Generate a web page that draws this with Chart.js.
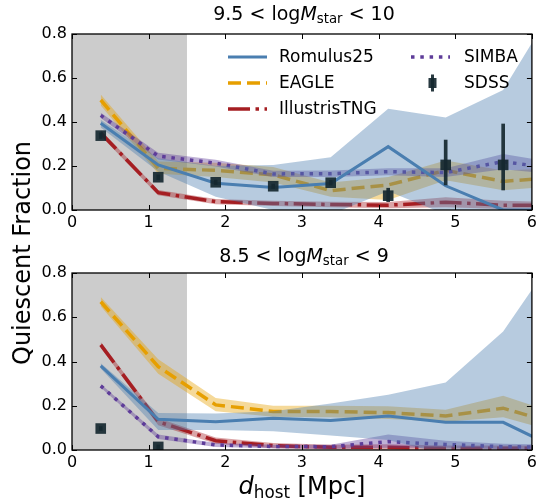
<!DOCTYPE html>
<html>
<head>
<meta charset="utf-8">
<script src="https://cdn.jsdelivr.net/npm/chart.js@4.4.1/dist/chart.umd.min.js"></script>
<style>
  body { margin: 0; background: #fff; font-family: "DejaVu Sans", sans-serif; }
  #wrap { position: relative; width: 540px; height: 501px; overflow: hidden; }
  canvas { position: absolute; left: 0; }
  .txt { position: absolute; white-space: nowrap; color: #000; }
  .txt sub { font-size: 0.7em; vertical-align: -0.22em; line-height: 0; }
  .title { font-size: 19px; line-height: 19px; transform: translateX(-50%); }
</style>
</head>
<body>
<div id="wrap">
  <canvas id="topChart" width="540" height="232" style="top:0"></canvas>
  <canvas id="botChart" width="540" height="269" style="top:232px"></canvas>
  <div class="txt title" style="left:304px; top:4px;">9.5 &lt; log<i>M</i><sub>star</sub> &lt; 10</div>
  <div class="txt title" style="left:304px; top:246px;">8.5 &lt; log<i>M</i><sub>star</sub> &lt; 9</div>
  <div class="txt" style="left:22px; top:253px; font-size:24px; line-height:24px; transform:translate(-50%,-50%) rotate(-90deg);">Quiescent Fraction</div>
  <div class="txt" style="left:302px; top:474px; font-size:24px; line-height:24px; transform:translateX(-50%);"><i>d</i><sub>host</sub> [Mpc]</div>
</div>
<script>
'use strict';

// bin centres (last one sits past the axis edge and gets clipped)
var xBins = [0.375, 1.125, 1.875, 2.625, 3.375, 4.125, 4.875, 5.625, 6.375];
var xTicks = [0, 1, 2, 3, 4, 5, 6];
var yTicks = [0, 0.2, 0.4, 0.6, 0.8];
var shadeFrom = 0;
var shadeTo = 1.5;

// ---------------- 9.5 < logM < 10 ----------------
var romTop   = [0.394, 0.205, 0.122, 0.102, 0.120, 0.288, 0.110, 0.000, 0.000];
var romTopLo = [0.375, 0.175, 0.060, 0.000, -0.02, 0.085, -0.02, -0.05, -0.05];
var romTopHi = [0.410, 0.235, 0.200, 0.205, 0.240, 0.460, 0.420, 0.545, 0.975];

var eagleTop   = [0.500, 0.190, 0.180, 0.160, 0.088, 0.114, 0.180, 0.130, 0.150];
var eagleTopLo = [0.475, 0.165, 0.150, 0.125, 0.060, 0.045, 0.135, 0.090, 0.110];
var eagleTopHi = [0.525, 0.220, 0.215, 0.195, 0.125, 0.150, 0.225, 0.180, 0.190];

var tngTop   = [0.350, 0.079, 0.038, 0.030, 0.025, 0.022, 0.035, 0.022, 0.022];
var tngTopLo = [0.338, 0.067, 0.026, 0.018, 0.013, 0.008, 0.012, 0.005, 0.008];
var tngTopHi = [0.362, 0.091, 0.050, 0.042, 0.037, 0.036, 0.058, 0.042, 0.036];

var simbaTop   = [0.430, 0.245, 0.213, 0.164, 0.165, 0.174, 0.170, 0.220, 0.185];
var simbaTopLo = [0.418, 0.230, 0.198, 0.150, 0.150, 0.158, 0.150, 0.185, 0.160];
var simbaTopHi = [0.442, 0.260, 0.228, 0.178, 0.180, 0.190, 0.190, 0.255, 0.210];

var sdssXTop  = [0.375, 1.125, 1.875, 2.625, 3.375, 4.125, 4.875, 5.625];
var sdssTop   = [0.338, 0.149, 0.126, 0.108, 0.124, 0.065, 0.205, 0.205];
var sdssTopLo = [0.325, 0.138, 0.116, 0.098, 0.113, 0.038, 0.114, 0.091];
var sdssTopHi = [0.351, 0.160, 0.136, 0.118, 0.135, 0.099, 0.318, 0.391];

// ---------------- 8.5 < logM < 9 ----------------
var romBot   = [0.380, 0.139, 0.128, 0.143, 0.133, 0.154, 0.125, 0.125, 0.000];
var romBotLo = [0.368, 0.090, 0.090, 0.085, 0.065, 0.045, -0.02, -0.02, -0.05];
var romBotHi = [0.392, 0.167, 0.165, 0.175, 0.210, 0.250, 0.305, 0.536, 0.914];

var eagleBot   = [0.670, 0.377, 0.204, 0.174, 0.174, 0.169, 0.154, 0.189, 0.113];
var eagleBotLo = [0.650, 0.345, 0.175, 0.150, 0.148, 0.140, 0.128, 0.148, 0.075];
var eagleBotHi = [0.692, 0.410, 0.235, 0.200, 0.200, 0.198, 0.182, 0.245, 0.160];

var tngBot   = [0.475, 0.128, 0.042, 0.020, 0.012, 0.012, 0.008, 0.008, 0.008];
var tngBotLo = [0.462, 0.112, 0.028, 0.008, 0.002, 0.000, 0.000, 0.000, 0.000];
var tngBotHi = [0.488, 0.144, 0.056, 0.032, 0.024, 0.026, 0.020, 0.020, 0.020];

var simbaBot   = [0.290, 0.060, 0.023, 0.016, 0.015, 0.038, 0.025, 0.015, 0.012];
var simbaBotLo = [0.282, 0.050, 0.014, 0.008, 0.006, 0.010, 0.010, 0.004, 0.002];
var simbaBotHi = [0.298, 0.070, 0.032, 0.024, 0.024, 0.070, 0.042, 0.028, 0.024];

var sdssXBot  = [0.375, 1.125];
var sdssBot   = [0.097, 0.014];
var sdssBotLo = [0.088, 0.005];
var sdssBotHi = [0.106, 0.023];

// colours
var romColor = '#4a7eb0';
var eagleColor = '#e69f00';
var tngColor = '#a51e22';
var simbaColor = '#5e3c99';
var sdssColor = 'rgba(22,40,48,0.92)';

var romDash = [];
var eagleDash = [13, 6];
var tngDash = [22, 5.5, 3.5, 5.5];
var simbaDash = [3.5, 5.8];

var FONT = '"DejaVu Sans", sans-serif';

function pts(xs, ys) {
  return ys.map(function (y, i) { return { x: xs[i], y: y }; });
}

function hexA(hex, a) {
  var n = parseInt(hex.slice(1), 16);
  return 'rgba(' + (n >> 16) + ',' + ((n >> 8) & 255) + ',' + (n & 255) + ',' + a + ')';
}

// lower order = drawn on top
function series(vals, lo, hi, color, dash, width, order) {
  return [
    { type: 'line', data: pts(xBins, lo), borderWidth: 0, borderColor: 'transparent',
      pointRadius: 0, fill: false, order: order + 1 },
    { type: 'line', data: pts(xBins, hi), borderWidth: 0, borderColor: 'transparent',
      pointRadius: 0, fill: '-1', backgroundColor: hexA(color, 0.4), order: order + 1 },
    { type: 'line', data: pts(xBins, vals), borderColor: color, borderWidth: width,
      borderDash: dash, borderCapStyle: 'butt', pointRadius: 0, fill: false, tension: 0, order: order }
  ];
}

function sdssSets(xs, vals, lo, hi) {
  return [
    { type: 'bar', data: xs.map(function (x, i) { return { x: x, y: [lo[i], hi[i]] }; }),
      backgroundColor: sdssColor, barThickness: 3, order: 2 },
    { type: 'line', data: pts(xs, vals), showLine: false, pointStyle: 'rect',
      pointRadius: 7.5, pointBackgroundColor: sdssColor, pointBorderWidth: 0, order: 1 }
  ];
}

// grey region behind everything
var shadePlugin = {
  id: 'shade',
  beforeDatasetsDraw: function (chart) {
    var ctx = chart.ctx, a = chart.chartArea, xs = chart.scales.x;
    var x0 = xs.getPixelForValue(shadeFrom), x1 = xs.getPixelForValue(shadeTo);
    ctx.save();
    ctx.fillStyle = '#cccccc';
    ctx.fillRect(x0, a.top, x1 - x0, a.bottom - a.top);
    ctx.restore();
  }
};

// box + inward ticks on all four sides
var framePlugin = {
  id: 'frame',
  afterDraw: function (chart) {
    var ctx = chart.ctx, a = chart.chartArea;
    var xs = chart.scales.x, ys = chart.scales.y;
    ctx.save();
    ctx.strokeStyle = '#000';
    ctx.lineWidth = 1.3;
    ctx.strokeRect(a.left, a.top, a.right - a.left, a.bottom - a.top);
    ctx.lineWidth = 1;
    ctx.beginPath();
    xTicks.forEach(function (v) {
      var px = Math.round(xs.getPixelForValue(v)) + 0.5;
      ctx.moveTo(px, a.bottom); ctx.lineTo(px, a.bottom - 5);
      ctx.moveTo(px, a.top); ctx.lineTo(px, a.top + 5);
    });
    yTicks.forEach(function (v) {
      var py = Math.round(ys.getPixelForValue(v)) + 0.5;
      ctx.moveTo(a.left, py); ctx.lineTo(a.left + 5, py);
      ctx.moveTo(a.right, py); ctx.lineTo(a.right - 5, py);
    });
    ctx.stroke();
    ctx.restore();
  }
};

// two-column legend in the upper panel
var legendPlugin = {
  id: 'legendBox',
  afterDatasetsDraw: function (chart, args, opts) {
    if (!opts.show) return;
    var ctx = chart.ctx;
    var items = [
      { name: 'Romulus25', color: romColor, dash: romDash, w: 3, x: 228, y: 57 },
      { name: 'EAGLE', color: eagleColor, dash: eagleDash, w: 3.5, x: 228, y: 83 },
      { name: 'IllustrisTNG', color: tngColor, dash: tngDash, w: 3.5, x: 228, y: 109 },
      { name: 'SIMBA', color: simbaColor, dash: simbaDash, w: 3.5, x: 411, y: 57 },
      { name: 'SDSS', marker: true, x: 411, y: 83 }
    ];
    ctx.save();
    items.forEach(function (it) {
      if (it.marker) {
        ctx.fillStyle = sdssColor;
        ctx.fillRect(it.x + 20, it.y - 8.5, 3, 17);
        ctx.fillRect(it.x + 17.5, it.y - 5, 8, 10);
      } else {
        ctx.strokeStyle = it.color;
        ctx.lineWidth = it.w;
        ctx.lineCap = 'butt';
        ctx.setLineDash(it.dash);
        ctx.beginPath();
        ctx.moveTo(it.x, it.y);
        ctx.lineTo(it.x + 39, it.y);
        ctx.stroke();
        ctx.setLineDash([]);
      }
      ctx.fillStyle = '#000';
      ctx.font = '17px ' + FONT;
      ctx.textBaseline = 'middle';
      ctx.textAlign = 'left';
      ctx.fillText(it.name, it.x + (it.x > 300 ? 53 : 51), it.y + 1);
    });
    ctx.restore();
  }
};

function buildChart(id, sets, padTop, padBottom, showLegend) {
  var ctx = document.getElementById(id).getContext('2d');
  return new Chart(ctx, {
    type: 'line',
    data: { datasets: sets },
    options: {
      responsive: false,
      animation: false,
      events: [],
      layout: { autoPadding: false, padding: { left: 0, right: 4, top: padTop, bottom: padBottom } },
      plugins: {
        legend: { display: false },
        tooltip: { enabled: false },
        legendBox: { show: showLegend }
      },
      scales: {
        x: {
          type: 'linear', min: 0, max: 6, offset: false,
          grid: { display: false, drawTicks: false },
          border: { display: false },
          afterFit: function (s) { s.height = 20; },
          afterBuildTicks: function (s) { s.ticks = xTicks.map(function (v) { return { value: v }; }); },
          ticks: { padding: 3, color: '#000', font: { family: FONT, size: 16 }, maxRotation: 0,
            callback: function (v) { return String(v); } }
        },
        y: {
          type: 'linear', min: 0, max: 0.8,
          grid: { display: false, drawTicks: false },
          border: { display: false },
          afterFit: function (s) { s.width = 72; },
          afterBuildTicks: function (s) { s.ticks = yTicks.map(function (v) { return { value: v }; }); },
          ticks: { padding: 5, color: '#000', font: { family: FONT, size: 16 },
            callback: function (v) { return Number(v).toFixed(1); } }
        }
      }
    },
    plugins: [shadePlugin, legendPlugin, framePlugin]
  });
}

function panelSets(rom, eagle, tng, simba, sdss) {
  return [].concat(
    sdssSets(sdss[0], sdss[1], sdss[2], sdss[3]),
    series(rom[0], rom[1], rom[2], romColor, romDash, 3, 3),
    series(simba[0], simba[1], simba[2], simbaColor, simbaDash, 3.5, 5),
    series(tng[0], tng[1], tng[2], tngColor, tngDash, 3.5, 7),
    series(eagle[0], eagle[1], eagle[2], eagleColor, eagleDash, 3.5, 9)
  );
}

buildChart('topChart', panelSets(
  [romTop, romTopLo, romTopHi],
  [eagleTop, eagleTopLo, eagleTopHi],
  [tngTop, tngTopLo, tngTopHi],
  [simbaTop, simbaTopLo, simbaTopHi],
  [sdssXTop, sdssTop, sdssTopLo, sdssTopHi]
), 34, 2, true);

buildChart('botChart', panelSets(
  [romBot, romBotLo, romBotHi],
  [eagleBot, eagleBotLo, eagleBotHi],
  [tngBot, tngBotLo, tngBotHi],
  [simbaBot, simbaBotLo, simbaBotHi],
  [sdssXBot, sdssBot, sdssBotLo, sdssBotHi]
), 41, 31, false);
</script>
</body>
</html>
